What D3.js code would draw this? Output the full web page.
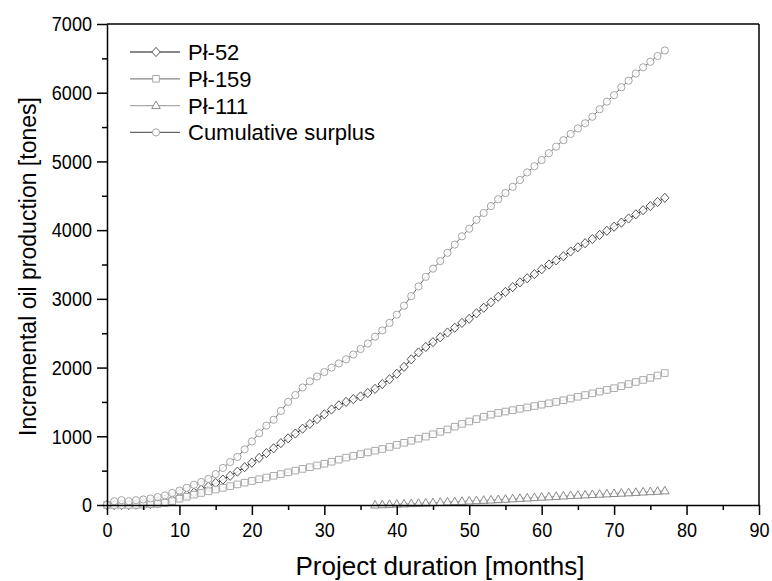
<!DOCTYPE html>
<html>
<head>
<meta charset="utf-8">
<script src="https://cdn.jsdelivr.net/npm/d3@7"></script>
<style>
body { margin: 0; background: #fff; }
text { font-family: "Liberation Sans", Arial, sans-serif; fill: #000; }
</style>
</head>
<body>
<div id="chart"></div>
<script>
var width = 772;
var height = 581;

// months 0..77
var months = d3.range(0, 78);
var trianglesStart = 37;

// Pl-52 (diamonds)
var pl52 = [0, 0, 0, 0, 5, 10, 15, 25, 45, 75,
  110, 145, 180, 225, 270, 320, 370, 425, 485, 550,
  615, 685, 755, 825, 900, 970, 1040, 1110, 1180, 1250,
  1320, 1390, 1450, 1500, 1540, 1580, 1630, 1690, 1760, 1830,
  1910, 2010, 2120, 2220, 2300, 2370, 2440, 2510, 2580, 2650,
  2710, 2790, 2870, 2950, 3030, 3100, 3170, 3240, 3300, 3360,
  3430, 3500, 3560, 3620, 3690, 3750, 3810, 3870, 3930, 3990,
  4050, 4110, 4170, 4230, 4290, 4350, 4410, 4470];

// Pl-159 (squares)
var pl159 = [0, 0, 0, 0, 0, 5, 10, 15, 30, 55,
  90, 120, 150, 175, 200, 225, 250, 275, 300, 325,
  350, 375, 400, 425, 450, 475, 500, 525, 550, 575,
  600, 630, 660, 690, 715, 740, 765, 790, 815, 845,
  875, 905, 935, 965, 995, 1030, 1065, 1100, 1140, 1180,
  1215, 1250, 1285, 1315, 1340, 1360, 1380, 1400, 1420, 1440,
  1460, 1480, 1500, 1525, 1550, 1575, 1600, 1625, 1650, 1675,
  1700, 1730, 1760, 1790, 1820, 1850, 1885, 1920];

// Pl-111 (triangles), months 37..77
var pl111 = [0, 4, 8, 12, 16, 20, 24, 28, 33, 38,
  43, 48, 53, 58, 63, 68, 73, 78, 84, 90,
  96, 102, 108, 114, 119, 125, 131, 137, 142, 147,
  152, 157, 162, 167, 172, 177, 183, 189, 194, 200,
  206];

// Cumulative surplus (circles)
var cumulative = [0, 55, 70, 55, 70, 80, 95, 115, 140, 175,
  210, 250, 295, 335, 380, 450, 540, 625, 700, 810,
  925, 1045, 1155, 1240, 1370, 1500, 1600, 1710, 1800, 1870,
  1935, 2000, 2060, 2120, 2190, 2270, 2350, 2450, 2540, 2650,
  2770, 2900, 3040, 3180, 3320, 3440, 3550, 3670, 3790, 3910,
  4020, 4150, 4250, 4350, 4450, 4540, 4630, 4730, 4840, 4930,
  5020, 5120, 5215, 5310, 5400, 5480, 5555, 5650, 5760, 5870,
  5965, 6080, 6175, 6280, 6370, 6450, 6535, 6615];

var xTicks = d3.range(0, 91, 10);
var xMinor = d3.range(5, 90, 10);
var yTicks = d3.range(0, 7001, 1000);
var yMinor = d3.range(500, 7000, 1000);

var svg = d3.select("#chart").append("svg")
  .attr("width", width)
  .attr("height", height);

var x = d3.scaleLinear().domain([0, 90]).range([107, 759]);
var y = d3.scaleLinear().domain([0, 7000]).range([505, 24]);

// series setup
var series = [
  {name: "Pł-52", start: 0, values: pl52, shape: "diamond", line: "#111", mark: "#555"},
  {name: "Pł-159", start: 0, values: pl159, shape: "square", line: "#888", mark: "#aaa"},
  {name: "Pł-111", start: trianglesStart, values: pl111, shape: "triangle", line: "#aaa", mark: "#8a8a8a"},
  {name: "Cumulative surplus", start: 0, values: cumulative, shape: "circle", line: "#666", mark: "#a5a5a5"}
];

function markerPath(shape) {
  if (shape == "diamond") return "M0,-4.6L4.2,0L0,4.6L-4.2,0Z";
  if (shape == "square") return "M-3.3,-3.3H3.3V3.3H-3.3Z";
  if (shape == "triangle") return "M0,-4.6L4.3,3L-4.3,3Z";
  return "M3.6,0A3.6,3.6 0 1,1 -3.6,0A3.6,3.6 0 1,1 3.6,0Z";
}

var line = d3.line()
  .x(function(d) { return x(d.m); })
  .y(function(d) { return y(d.v); });

series.forEach(function(s) {
  var pts = s.values.map(function(v, i) { return {m: s.start + i, v: v}; });
  var g = svg.append("g");
  g.append("path")
    .attr("d", line(pts))
    .attr("fill", "none")
    .attr("stroke", s.line)
    .attr("stroke-width", 1);
  g.selectAll("path.mk")
    .data(pts)
    .enter().append("path")
    .attr("class", "mk")
    .attr("d", markerPath(s.shape))
    .attr("transform", function(d) { return "translate(" + x(d.m) + "," + y(d.v) + ")"; })
    .attr("fill", "#fff")
    .attr("fill-opacity", 0.85)
    .attr("stroke", s.mark)
    .attr("stroke-width", 1);
});

// tick labels in the original are a bit condensed
var squeeze = 0.86;

// axes
var xAxis = svg.append("g")
  .attr("transform", "translate(0," + y(0) + ")")
  .call(d3.axisBottom(x).tickValues(xTicks).tickSize(10).tickPadding(7).tickSizeOuter(0));
svg.append("g")
  .attr("transform", "translate(0," + y(0) + ")")
  .call(d3.axisBottom(x).tickValues(xMinor).tickSize(5).tickFormat("").tickSizeOuter(0))
  .select(".domain").remove();

var yAxis = svg.append("g")
  .attr("transform", "translate(" + x(0) + ",0)")
  .call(d3.axisLeft(y).tickValues(yTicks).tickFormat(d3.format("d")).tickSize(10).tickPadding(5).tickSizeOuter(0));
svg.append("g")
  .attr("transform", "translate(" + x(0) + ",0)")
  .call(d3.axisLeft(y).tickValues(yMinor).tickSize(5).tickFormat("").tickSizeOuter(0))
  .select(".domain").remove();

svg.selectAll(".tick line").attr("stroke", "#000").attr("stroke-width", 1.5);
svg.selectAll(".domain").attr("stroke", "#000").attr("stroke-width", 1.5);
svg.selectAll(".tick text")
  .attr("font-size", 21)
  .attr("font-family", "Liberation Sans, Arial, sans-serif")
  .attr("transform", "scale(" + squeeze + ",1)");
yAxis.selectAll(".tick text").attr("x", -15 / squeeze);

// top and right frame
svg.append("line")
  .attr("x1", x(0)).attr("x2", x(90))
  .attr("y1", y(7000)).attr("y2", y(7000))
  .attr("stroke", "#000").attr("stroke-width", 1.5);
svg.append("line")
  .attr("x1", x(90)).attr("x2", x(90))
  .attr("y1", y(7000)).attr("y2", y(0))
  .attr("stroke", "#000").attr("stroke-width", 1.5);

// axis titles
svg.append("text")
  .attr("x", 440)
  .attr("y", 575)
  .attr("text-anchor", "middle")
  .attr("font-size", 26)
  .text("Project duration [months]");

svg.append("text")
  .attr("transform", "translate(36," + ((y(0) + y(7000)) / 2 + 2) + ") rotate(-90)")
  .attr("text-anchor", "middle")
  .attr("font-size", 23)
  .text("Incremental oil production [tones]");

// legend
var legend = svg.append("g");
series.forEach(function(s, i) {
  var ly = 52 + i * 26.8;
  legend.append("line")
    .attr("x1", 130).attr("x2", 180)
    .attr("y1", ly).attr("y2", ly)
    .attr("stroke", s.line).attr("stroke-width", 1.2);
  legend.append("path")
    .attr("d", markerPath(s.shape))
    .attr("transform", "translate(156," + ly + ")")
    .attr("fill", "#fff")
    .attr("stroke", s.mark);
  legend.append("text")
    .attr("x", 188)
    .attr("y", ly + 8)
    .attr("font-size", 22)
    .text(s.name);
});
</script>
</body>
</html>
